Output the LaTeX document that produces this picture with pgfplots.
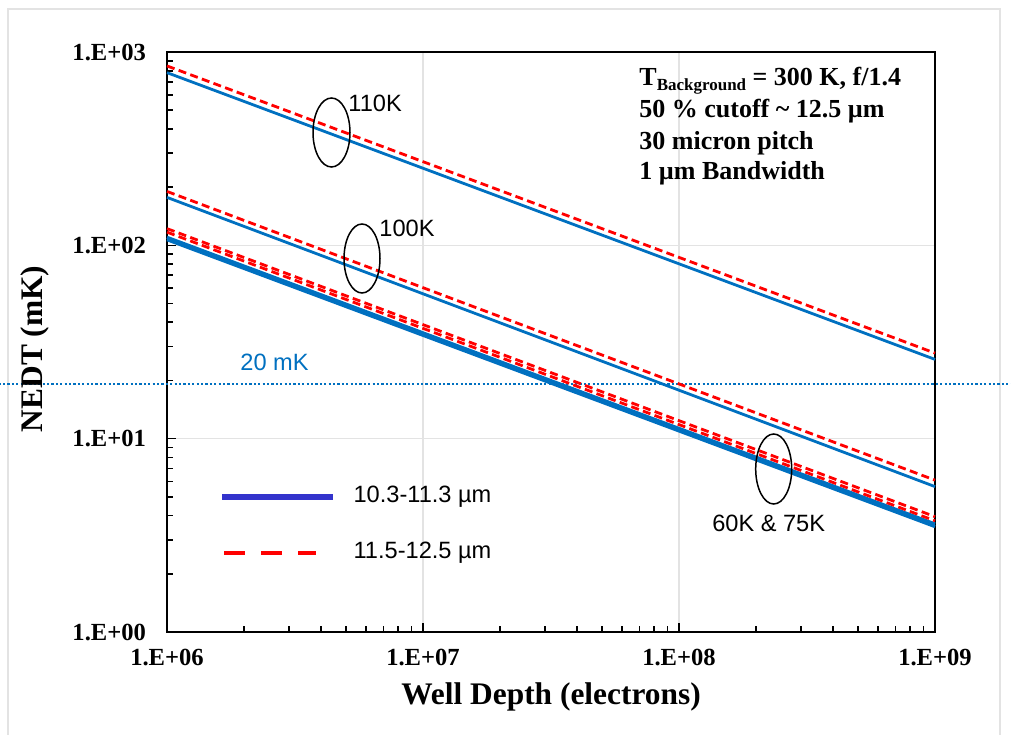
\documentclass[border=0pt]{standalone}
\usepackage{fontspec}
\setmainfont{Liberation Serif}
\newfontfamily\arial{Liberation Sans}
\usepackage{pgfplots}
\pgfplotsset{compat=1.18}
\definecolor{lineblue}{HTML}{0070C0}
\definecolor{legblue}{HTML}{3333CC}
\definecolor{gridgray}{HTML}{E3E3E3}

\begin{document}
\begin{tikzpicture}
\path[use as bounding box] (-83.5pt,-51pt) rectangle (422pt,316pt);
\draw[gridgray, line width=0.75pt] (-79.5pt,-70pt) rectangle (416.5pt,311.5pt);
\begin{axis}[
  scale only axis, width=384pt, height=290pt,
  at={(0pt,0pt)}, anchor=south west,
  xmode=log, ymode=log,
  xmin=1e6, xmax=1e9, ymin=1, ymax=1000,
  xtick={1e6,1e7,1e8,1e9}, xticklabels={1.E+06,1.E+07,1.E+08,1.E+09},
  ytick={1,10,100,1000}, yticklabels={1.E+00,1.E+01,1.E+02,1.E+03},
  minor xtick={2e6,3e6,4e6,5e6,6e6,7e6,8e6,9e6,2e7,3e7,4e7,5e7,6e7,7e7,8e7,9e7,2e8,3e8,4e8,5e8,6e8,7e8,8e8,9e8},
  minor ytick={2,3,4,5,6,7,8,9,20,30,40,50,60,70,80,90,200,300,400,500,600,700,800,900},
  tick align=inside, xtick pos=bottom, ytick pos=left,
  major tick length=4.5pt, minor tick length=3.2pt,
  tick style={black, line width=0.8pt},
  axis line style={line width=1pt},
  grid=major, grid style={gridgray, line width=0.6pt},
  tick label style={font=\bfseries\fontsize{12.3}{14}\selectfont},
  xticklabel style={yshift=-5pt},
  yticklabel style={xshift=-7pt},
  xlabel={Well Depth (electrons)}, ylabel={NEDT (mK)},
  label style={font=\bfseries\fontsize{15.7}{18}\selectfont},
  xlabel style={at={(axis description cs:0.5,-0.112)}, anchor=center},
  ylabel style={at={(axis description cs:-0.1719,0.488)}, anchor=center},
  clip=false,
  legend cell align=left,
  legend style={at={(rel axis cs:0.0677,0.1845)}, anchor=west, draw=none, fill=none,
    inner sep=0pt, row sep=17pt, column sep=9pt,
    font=\arial\fontsize{11.8}{14}\selectfont,
    nodes={inner sep=0pt, text height=8.5pt, text depth=2.5pt}},
]
% 20 mK reference
\addplot[lineblue, line width=1.1pt, dash pattern=on 1.1pt off 1.1pt, forget plot]
  coordinates {(2.2e5,19.2)(2e9,19.2)};
% 10.3-11.3 um (solid)
\addplot[lineblue, line width=1.4pt, forget plot] coordinates {(1e6,782)(1e9,25.7)};
\addplot[lineblue, line width=1.4pt, forget plot] coordinates {(1e6,177)(1e9,5.65)};
\addplot[lineblue, line width=1.6pt, forget plot] coordinates {(1e6,110)(1e9,3.62)};
\addplot[lineblue, line width=1.6pt, forget plot] coordinates {(1e6,107)(1e9,3.51)};
% 11.5-12.5 um (dashed)
\addplot[red, line width=1.4pt, dash pattern=on 4pt off 2.2pt, forget plot] coordinates {(1e6,847)(1e9,27.7)};
\addplot[red, line width=1.4pt, dash pattern=on 4pt off 2.2pt, forget plot] coordinates {(1e6,190)(1e9,6.1)};
\addplot[red, line width=1.4pt, dash pattern=on 4pt off 2.2pt, forget plot] coordinates {(1e6,122)(1e9,3.95)};
\addplot[red, line width=1.4pt, dash pattern=on 4pt off 2.2pt, forget plot] coordinates {(1e6,117)(1e9,3.76)};

\addlegendimage{legend image code/.code={\draw[legblue, line width=2.6pt] (0pt,0pt) -- (55.5pt,0pt);}}
\addlegendentry{10.3-11.3 µm}
\addlegendimage{legend image code/.code={\draw[red, line width=2pt, dash pattern=on 10.5pt off 8pt] (1pt,0pt) -- (47pt,0pt);}}
\addlegendentry{11.5-12.5 µm}
\end{axis}

\begin{scope}[x=0.5pt, y=-0.5pt, shift={(-83.5pt,316pt)}]
\draw[line width=0.75pt] (331.5,132.5) ellipse [x radius=9.25pt, y radius=17.25pt];
\draw[line width=0.75pt] (362,258.5) ellipse [x radius=9pt, y radius=17.25pt];
\draw[line width=0.75pt] (773.7,469) ellipse [x radius=9pt, y radius=17.5pt];
\begin{scope}[every node/.style={inner sep=0pt, font=\arial\fontsize{11.8}{14}\selectfont}]
\node[anchor=base west] at (348,112) {110K};
\node[anchor=base west] at (379,237) {100K};
\node[anchor=base] at (768.7,531) {60K \& 75K};
\node[anchor=base west, text=lineblue] at (240,371) {20 mK};
\end{scope}
\begin{scope}[every node/.style={inner sep=0pt, anchor=base west, font=\bfseries\fontsize{13}{15}\selectfont}]
\node at (639,86) {T\raisebox{-2.5pt}{\fontsize{8.5}{10}\selectfont Background} = 300 K, f/1.4};
\node at (639,118) {50 \% cutoff \textasciitilde{} 12.5 µm};
\node at (639,149.5) {30 micron pitch};
\node at (639,180) {1 µm Bandwidth};
\end{scope}
\end{scope}
\end{tikzpicture}
\end{document}
